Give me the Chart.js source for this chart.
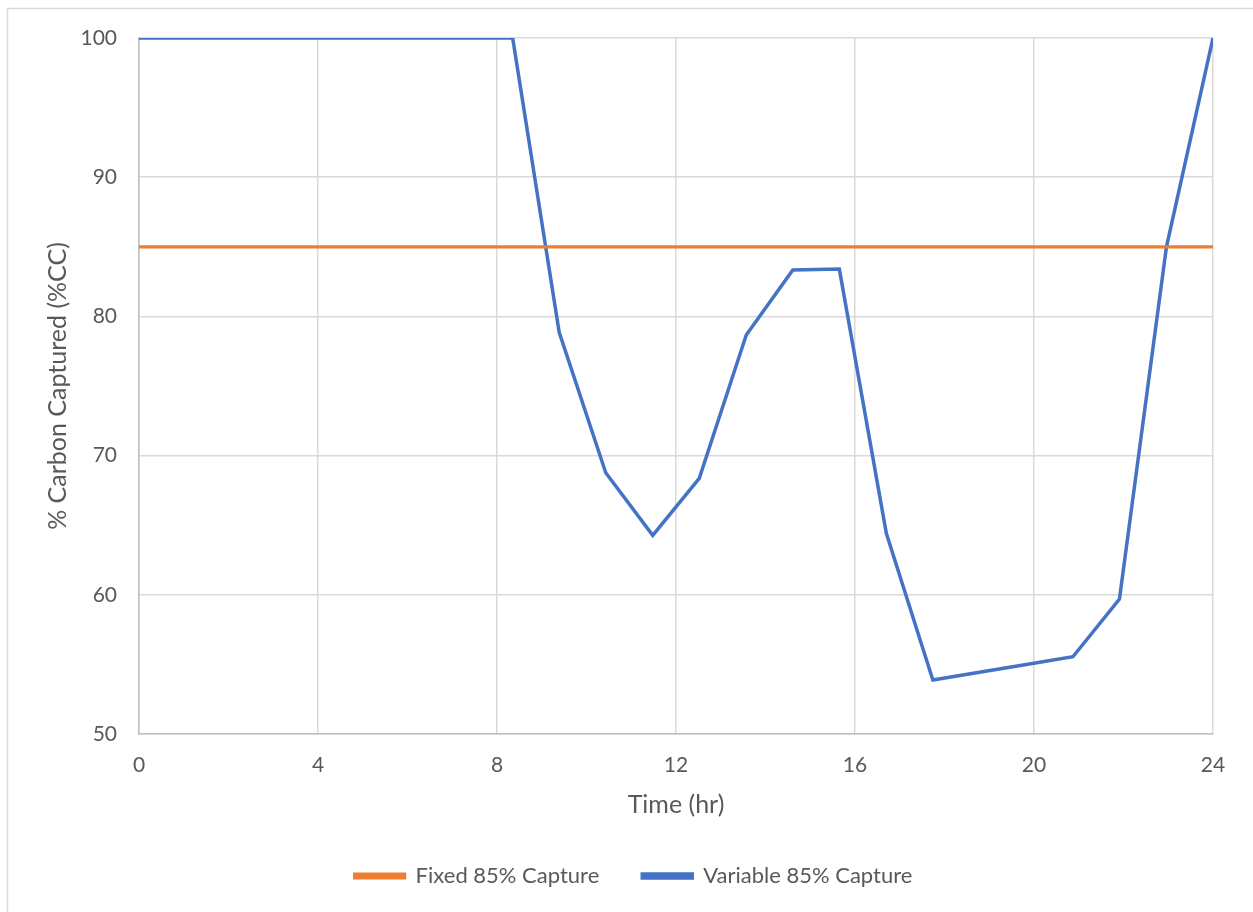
<!DOCTYPE html>
<html>
<head>
<meta charset="utf-8">
<script src="https://cdn.jsdelivr.net/npm/chart.js@4.4.1/dist/chart.umd.min.js"></script>
<style>
  html, body { margin: 0; padding: 0; background: #ffffff; }
  canvas { display: block; }
</style>
</head>
<body>
<canvas id="captureChart" width="1253" height="912"></canvas>
<script>
// hourly samples across the day (24 steps spread over 0-24 hr)
let timeHours = [0, 1.04, 2.09, 3.13, 4.17, 5.22, 6.26, 7.30, 8.35, 9.39, 10.43, 11.48,
                 12.52, 13.57, 14.61, 15.65, 16.70, 17.74, 18.78, 19.83, 20.87, 21.91, 22.96, 24];
let fixedCapture = [85, 85, 85, 85, 85, 85, 85, 85, 85, 85, 85, 85,
                    85, 85, 85, 85, 85, 85, 85, 85, 85, 85, 85, 85];
let variableCapture = [100, 100, 100, 100, 100, 100, 100, 100, 100, 78.86, 68.77, 64.27,
                       68.37, 78.66, 83.33, 83.40, 64.42, 53.88, 54.44, 55.0, 55.55, 59.70, 85.0, 100];
let xTicks = [0, 4, 8, 12, 16, 20, 24];
let yTicks = [50, 60, 70, 80, 90, 100];

let seriesNames = ['Fixed 85% Capture', 'Variable 85% Capture'];
let seriesColors = ['#ED7D31', '#4472C4'];

let textColor = '#595959';
let fontFamily = 'Lato, "Open Sans", sans-serif';

function toPoints(values) {
  return values.map((v, i) => ({ x: timeHours[i], y: v }));
}

// light frame around the whole chart
let frame = {
  id: 'frame',
  beforeDraw(chart) {
    let c = chart.ctx;
    c.save();
    c.strokeStyle = '#d9d9d9';
    c.lineWidth = 1.5;
    c.strokeRect(7.5, 8.5, chart.width + 20, chart.height + 20);
    c.restore();
  }
};

let ctx = document.getElementById('captureChart').getContext('2d');

let chart = new Chart(ctx, {
  type: 'line',
  data: {
    datasets: [{
      label: seriesNames[0],
      data: toPoints(fixedCapture),
      borderColor: seriesColors[0],
      backgroundColor: seriesColors[0],
      borderWidth: 3.2,
      pointRadius: 0,
      fill: false
    }, {
      label: seriesNames[1],
      data: toPoints(variableCapture),
      borderColor: seriesColors[1],
      backgroundColor: seriesColors[1],
      borderWidth: 3.5,
      pointRadius: 0,
      fill: false
    }]
  },
  options: {
    responsive: false,
    animation: false,
    layout: {
      padding: { left: 54, top: 38, right: 40, bottom: 15 }
    },
    scales: {
      x: {
        type: 'linear',
        min: 0,
        max: 24,
        afterBuildTicks: (scale) => { scale.ticks = xTicks.map(v => ({ value: v })); },
        afterFit: (scale) => { scale.height = 88; },
        grid: { color: '#d9d9d9', lineWidth: 1.5, drawTicks: false },
        border: { color: '#bfbfbf', width: 1.5 },
        ticks: { color: textColor, padding: 19, font: { family: fontFamily, size: 21 } },
        title: {
          display: true,
          text: 'Time (hr)',
          color: textColor,
          padding: { top: 4, bottom: 2 },
          font: { family: fontFamily, size: 25 }
        }
      },
      y: {
        min: 50,
        max: 100,
        afterBuildTicks: (scale) => { scale.ticks = yTicks.map(v => ({ value: v })); },
        afterFit: (scale) => { scale.width = 85; },
        grid: { color: '#d9d9d9', lineWidth: 1.5, drawTicks: false },
        border: { color: '#bfbfbf', width: 1.5 },
        ticks: { color: textColor, padding: 22, font: { family: fontFamily, size: 21 } },
        title: {
          display: true,
          text: '% Carbon Captured (%CC)',
          color: textColor,
          padding: { top: -11, bottom: 0 },
          font: { family: fontFamily, size: 25 }
        }
      }
    },
    plugins: {
      legend: {
        display: true,
        position: 'bottom',
        labels: {
          color: textColor,
          boxWidth: 50,
          boxHeight: 4,
          padding: 43,
          font: { family: fontFamily, size: 22 }
        }
      },
      tooltip: { enabled: false }
    }
  },
  plugins: [frame]
});
</script>
</body>
</html>
